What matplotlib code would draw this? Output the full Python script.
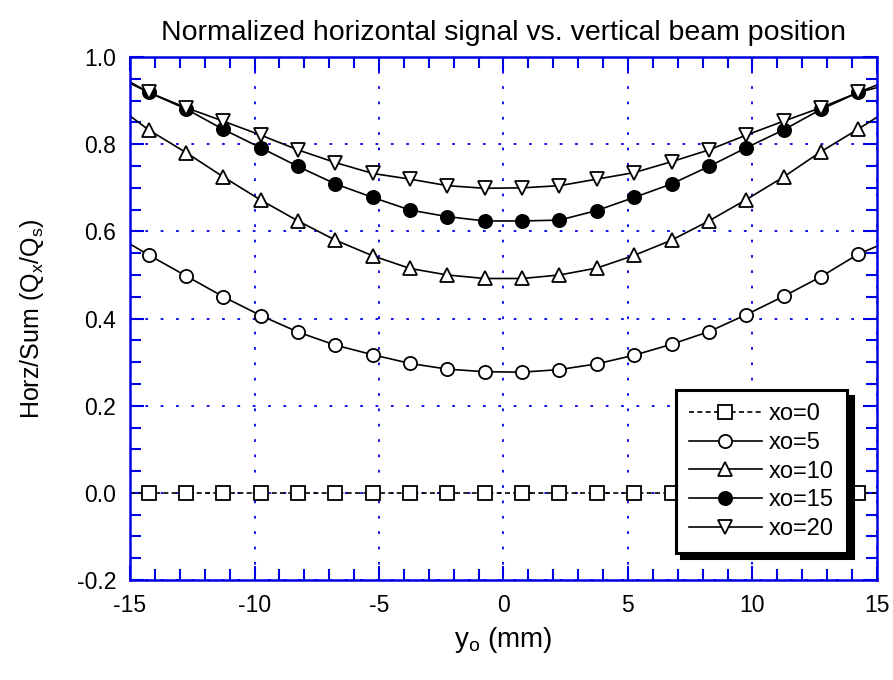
import matplotlib
matplotlib.use("Agg")
import matplotlib.pyplot as plt

plt.rcParams["font.family"] = ["Liberation Sans", "DejaVu Sans"]
plt.rcParams["mathtext.fontset"] = "custom"
plt.rcParams["mathtext.rm"] = "Liberation Sans"
plt.rcParams["mathtext.it"] = "Liberation Sans"

# beam position (mm); first and last entries are the curve ends at the frame
y0 = [-15, -14.25, -12.75, -11.25, -9.75, -8.25, -6.75, -5.25, -3.75, -2.25, -0.75,
      0.75, 2.25, 3.75, 5.25, 6.75, 8.25, 9.75, 11.25, 12.75, 14.25, 15]

xo0 = [0.0] * 22
xo5 = [0.571, 0.546, 0.498, 0.450, 0.407, 0.369, 0.339, 0.317, 0.297, 0.284, 0.278,
       0.277, 0.283, 0.296, 0.316, 0.341, 0.370, 0.409, 0.451, 0.496, 0.548, 0.566]
xo10 = [0.865, 0.833, 0.781, 0.725, 0.672, 0.624, 0.580, 0.544, 0.515, 0.500, 0.492,
        0.492, 0.500, 0.516, 0.545, 0.580, 0.624, 0.673, 0.725, 0.783, 0.835, 0.862]
xo15 = [0.940, 0.919, 0.881, 0.834, 0.792, 0.749, 0.709, 0.678, 0.649, 0.634, 0.624,
        0.624, 0.626, 0.648, 0.678, 0.709, 0.749, 0.792, 0.833, 0.880, 0.919, 0.930]
xo20 = [0.943, 0.919, 0.884, 0.853, 0.821, 0.787, 0.758, 0.733, 0.720, 0.705, 0.699,
        0.700, 0.705, 0.720, 0.735, 0.760, 0.787, 0.821, 0.853, 0.884, 0.919, 0.936]

labels = ["xo=0", "xo=5", "xo=10", "xo=15", "xo=20"]

blue = "#0000e6"

fig = plt.figure(figsize=(8.93, 6.8), dpi=100)
ax = fig.add_axes([0.1456, 0.147, 0.8364, 0.769])

marks = slice(1, -1)
common = dict(color="black", lw=1.2, ms=9.5, mew=1.3, markevery=marks)
ax.plot(y0, xo0, ls=(0, (3, 2)), marker="s", mfc="white", label=labels[0], **common)
ax.plot(y0, xo5, ls="-", marker="o", mfc="white", label=labels[1], **common)
ax.plot(y0, xo10, ls="-", marker="^", mfc="white", label=labels[2], **common)
ax.plot(y0, xo15, ls="-", marker="o", mfc="black", label=labels[3], **common)
ax.plot(y0, xo20, ls="-", marker="v", mfc="white", label=labels[4], **common)

ax.set_xlim(-15, 15)
ax.set_ylim(-0.2, 1.0)
ax.set_xticks([-15, -10, -5, 0, 5, 10, 15])
ax.set_xticks(range(-15, 16), minor=True)
ax.set_yticks([-0.2, 0.0, 0.2, 0.4, 0.6, 0.8, 1.0])
ax.set_yticks([i * 0.05 - 0.2 for i in range(25)], minor=True)
ax.set_xticklabels(["-15", "-10", "-5", "0", "5", "10", "15"])
ax.set_yticklabels(["-0.2", "0.0", "0.2", "0.4", "0.6", "0.8", "1.0"])

ax.tick_params(which="both", direction="in", top=True, right=True,
               color=blue, width=1.5, labelsize=16.5, labelcolor="black")
ax.tick_params(which="major", length=10, pad=10)
ax.tick_params(which="minor", length=8)
for s in ax.spines.values():
    s.set_color(blue)
    s.set_linewidth(1.8)

ax.grid(True, which="major", color=blue, ls=(0, (1.5, 7)), lw=1.3)

ax.set_title("Normalized horizontal signal vs. vertical beam position",
             fontsize=20.5, pad=12)
ax.set_xlabel(r"y$_{\mathregular{o}}$ (mm)", fontsize=20, labelpad=6)
ax.set_ylabel(r"Horz/Sum (Q$_{\mathregular{x}}$/Q$_{\mathregular{s}}$)",
              fontsize=18, labelpad=22)

leg = ax.legend(loc="lower right", bbox_to_anchor=(0.96, 0.052), borderaxespad=0,
                fontsize=17, handlelength=3.1, handletextpad=0.3, labelspacing=0.28,
                borderpad=0.55, fancybox=False, framealpha=1, edgecolor="black",
                shadow={"color": "black", "alpha": 1, "ox": 4, "oy": -4})
leg.get_frame().set_linewidth(2.2)

fig.savefig("out.png", dpi=100)
